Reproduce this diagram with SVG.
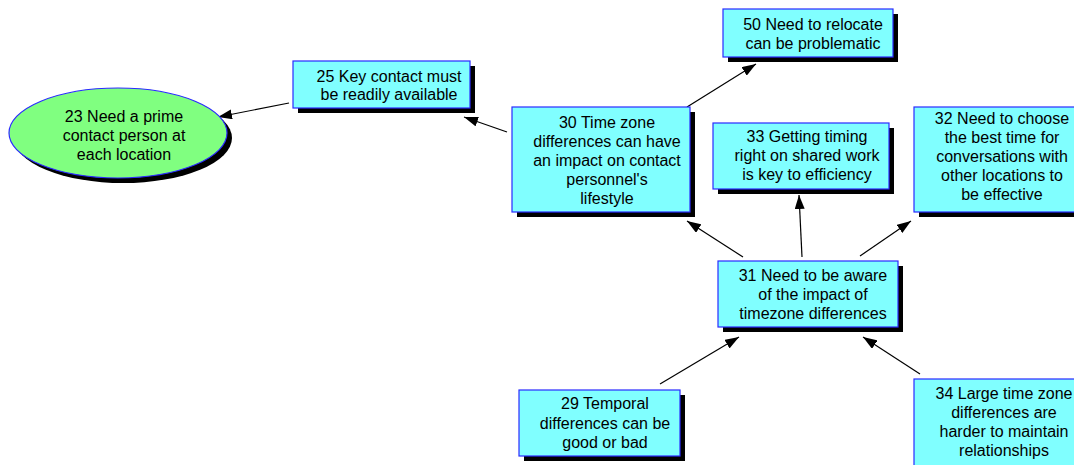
<svg xmlns="http://www.w3.org/2000/svg" width="1074" height="465" viewBox="0 0 1074 465">
  <defs>
    <style>
      .shadow { fill: #000000; }
      .box { fill: #80ffff; stroke: #2a2aff; stroke-width: 1.2; }
      .oval { fill: #80ff80; stroke: #2a2aff; stroke-width: 1.2; }
      .label { font-family: "Liberation Sans", Arial, sans-serif; font-size: 16px; fill: #000000; text-anchor: middle; }
      .link { stroke: #000000; stroke-width: 1.2; fill: none; marker-end: url(#arrow); }
    </style>
    <marker id="arrow" viewBox="0 0 14 10" refX="14" refY="5" markerWidth="14" markerHeight="10" markerUnits="userSpaceOnUse" orient="auto">
      <path d="M0,0 L14,5 L0,10 z" fill="#000000"/>
    </marker>
  </defs>

  <rect width="1074" height="465" fill="#ffffff"/>

  <!-- connectors -->
  <g id="connectors">
    <line class="link" x1="289" y1="103" x2="218" y2="117"/>
    <line class="link" x1="507" y1="132" x2="464" y2="117"/>
    <line class="link" x1="687" y1="107" x2="756" y2="64"/>
    <line class="link" x1="743" y1="257" x2="687" y2="221"/>
    <line class="link" x1="802" y1="257" x2="799" y2="195"/>
    <line class="link" x1="860" y1="256" x2="911" y2="221"/>
    <line class="link" x1="660" y1="384" x2="739" y2="337"/>
    <line class="link" x1="920" y1="374" x2="863" y2="337"/>
  </g>

  <!-- 23 -->
  <g id="node23">
    <ellipse class="shadow" cx="123" cy="138" rx="109" ry="45"/>
    <ellipse class="oval" cx="118" cy="133" rx="109" ry="45"/>
    <text class="label" x="124" y="122">23 Need a prime</text>
    <text class="label" x="124" y="141">contact person at</text>
    <text class="label" x="124" y="160">each location</text>
  </g>

  <!-- 25 -->
  <g id="node25">
    <rect class="shadow" x="298" y="66" width="177" height="47"/>
    <rect class="box" x="293" y="61" width="177" height="47"/>
    <text class="label" x="389" y="81.5">25 Key contact must</text>
    <text class="label" x="389" y="100">be readily available</text>
  </g>

  <!-- 50 -->
  <g id="node50">
    <rect class="shadow" x="728" y="14" width="170" height="48"/>
    <rect class="box" x="723" y="9" width="170" height="48"/>
    <text class="label" x="813" y="29.5">50 Need to relocate</text>
    <text class="label" x="813" y="48.5">can be problematic</text>
  </g>

  <!-- 30 -->
  <g id="node30">
    <rect class="shadow" x="517" y="112" width="178" height="105"/>
    <rect class="box" x="512" y="107" width="178" height="105"/>
    <text class="label" x="607" y="128">30 Time zone</text>
    <text class="label" x="607" y="147">differences can have</text>
    <text class="label" x="607" y="166">an impact on contact</text>
    <text class="label" x="607" y="185">personnel's</text>
    <text class="label" x="607" y="204">lifestyle</text>
  </g>

  <!-- 33 -->
  <g id="node33">
    <rect class="shadow" x="718" y="128" width="176" height="66"/>
    <rect class="box" x="713" y="123" width="176" height="66"/>
    <text class="label" x="807" y="142">33 Getting timing</text>
    <text class="label" x="807" y="161">right on shared work</text>
    <text class="label" x="807" y="180">is key to efficiency</text>
  </g>

  <!-- 32 -->
  <g id="node32">
    <rect class="shadow" x="919" y="112" width="180" height="105"/>
    <rect class="box" x="914" y="107" width="180" height="105"/>
    <text class="label" x="1002" y="124">32 Need to choose</text>
    <text class="label" x="1002" y="143">the best time for</text>
    <text class="label" x="1002" y="162">conversations with</text>
    <text class="label" x="1002" y="181">other locations to</text>
    <text class="label" x="1002" y="200">be effective</text>
  </g>

  <!-- 31 -->
  <g id="node31">
    <rect class="shadow" x="723" y="266" width="180" height="66"/>
    <rect class="box" x="718" y="261" width="180" height="66"/>
    <text class="label" x="813" y="281">31 Need to be aware</text>
    <text class="label" x="813" y="300">of the impact of</text>
    <text class="label" x="813" y="319">timezone differences</text>
  </g>

  <!-- 29 -->
  <g id="node29">
    <rect class="shadow" x="524" y="395" width="161" height="66"/>
    <rect class="box" x="519" y="390" width="161" height="66"/>
    <text class="label" x="605" y="409">29 Temporal</text>
    <text class="label" x="605" y="428.5">differences can be</text>
    <text class="label" x="605" y="448">good or bad</text>
  </g>

  <!-- 34 -->
  <g id="node34">
    <rect class="shadow" x="919" y="384" width="180" height="105"/>
    <rect class="box" x="914" y="379" width="180" height="105"/>
    <text class="label" x="1004" y="399">34 Large time zone</text>
    <text class="label" x="1004" y="418">differences are</text>
    <text class="label" x="1004" y="437">harder to maintain</text>
    <text class="label" x="1004" y="456">relationships</text>
  </g>
</svg>
